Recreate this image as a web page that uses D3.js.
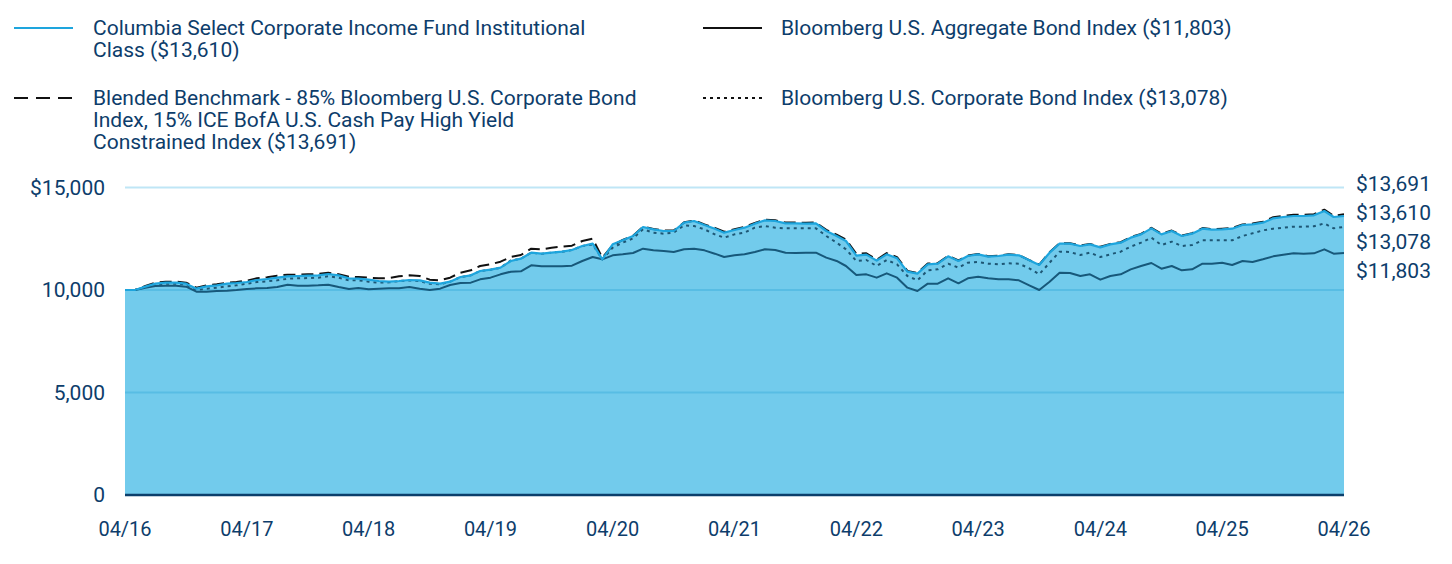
<!DOCTYPE html>
<html>
<head>
<meta charset="utf-8">
<script src="https://cdn.jsdelivr.net/npm/d3@7"></script>
<style>
  body { margin: 0; background: #fff; }
  svg text { font-family: Roboto, "Noto Sans", sans-serif; fill: #0d3d6b; }
</style>
</head>
<body>
<svg id="chart" width="1452" height="564"></svg>
<script>
// monthly values, 04/16 .. 04/26 (growth of $10,000)
var startMonth = new Date(2016, 3, 1);

var fund = [10000,10000,10163,10309,10358,10358,10309,10065,10179,10228,10309,10341,10390,10488,10537,10602,10667,10683,10699,10715,10780,10715,10569,10553,
  10504,10439,10407,10439,10488,10472,10358,10309,10407,10634,10715,10927,10992,11089,11415,11528,11821,11772,11821,11870,11951,12146,12260,11496,
  12228,12423,12634,13073,12959,12878,12878,13285,13366,13171,12992,12797,12927,13041,13236,13398,13366,13252,13252,13236,13252,12878,12634,12390,
  11680,11724,11431,11740,11545,10894,10797,11252,11285,11642,11415,11659,11740,11626,11659,11724,11691,11447,11220,11821,12260,12260,12146,12228,
  12080,12228,12309,12553,12715,13008,12715,12878,12634,12748,12992,12943,12959,12992,13171,13203,13285,13496,13561,13610,13610,13642,13854,13561,13610];

var aggregate = [10000,10000,10114,10195,10211,10211,10163,9919,9919,9951,9967,10000,10049,10081,10098,10146,10260,10211,10211,10228,10260,10146,10049,10098,
  10033,10065,10081,10081,10146,10065,10000,10065,10244,10341,10358,10520,10602,10764,10894,10911,11203,11154,11154,11154,11187,11415,11610,11496,
  11691,11740,11805,12016,11935,11902,11854,11984,12016,11935,11772,11610,11691,11740,11854,11984,11951,11821,11805,11821,11821,11577,11415,11171,
  10732,10764,10602,10813,10602,10114,9951,10309,10309,10569,10325,10569,10650,10569,10520,10520,10472,10228,10000,10407,10846,10829,10683,10764,
  10504,10683,10764,11008,11171,11317,11041,11171,10959,11008,11285,11285,11333,11220,11415,11366,11496,11642,11724,11789,11772,11789,11984,11772,11803];

var blended = [10000,10000,10195,10358,10407,10407,10358,10114,10228,10276,10358,10390,10455,10569,10618,10699,10748,10748,10764,10780,10846,10764,10650,10634,
  10602,10569,10585,10667,10715,10683,10504,10472,10602,10846,10959,11171,11252,11382,11610,11707,12016,11984,12065,12114,12163,12390,12504,11577,
  12180,12440,12650,13090,12980,12900,12900,13300,13390,13200,13030,12840,12960,13080,13270,13430,13400,13290,13290,13280,13290,12930,12700,12460,
  11760,11790,11480,11800,11600,10930,10830,11290,11310,11670,11440,11680,11760,11650,11680,11740,11710,11460,11240,11840,12280,12280,12170,12250,
  12110,12250,12330,12580,12740,13030,12740,12900,12660,12770,13020,12970,12990,13020,13200,13240,13330,13550,13620,13670,13670,13700,13920,13620,13691];

var corporate = [10000,10000,10146,10276,10309,10309,10260,10000,10065,10114,10179,10228,10309,10390,10423,10472,10553,10569,10585,10602,10667,10602,10472,10472,
  10407,10358,10374,10439,10472,10439,10309,10276,10407,10634,10715,10927,10992,11089,11447,11528,11821,11772,11821,11870,11951,12146,12228,11496,
  12065,12309,12520,12959,12797,12748,12797,13154,13122,12959,12715,12553,12715,12797,13041,13122,13041,13008,13008,13008,13008,12634,12309,11984,
  11415,11463,11171,11463,11252,10683,10472,10959,11008,11285,11089,11333,11366,11285,11252,11301,11285,11057,10764,11333,11870,11854,11707,11821,
  11610,11740,11870,12114,12309,12553,12195,12358,12146,12195,12423,12423,12423,12423,12634,12764,12911,12992,13041,13090,13090,13106,13252,13008,13078];

var yTicks = [0, 5000, 10000, 15000];
var endLabels = ["$13,691", "$13,610", "$13,078", "$11,803"];

var legendItems = [
  {lines: ["Columbia Select Corporate Income Fund Institutional", "Class ($13,610)"], kind: "fund"},
  {lines: ["Bloomberg U.S. Aggregate Bond Index ($11,803)"], kind: "aggregate"},
  {lines: ["Blended Benchmark - 85% Bloomberg U.S. Corporate Bond", "Index, 15% ICE BofA U.S. Cash Pay High Yield", "Constrained Index ($13,691)"], kind: "blended"},
  {lines: ["Bloomberg U.S. Corporate Bond Index ($13,078)"], kind: "corporate"}
];

var styles = {
  fund:      {stroke: "#1ea5dd", width: 2.2, dash: null},
  aggregate: {stroke: "#17587a", width: 2, dash: null},
  blended:   {stroke: "#111", width: 2, dash: "12,6"},
  corporate: {stroke: "#1d5674", width: 2, dash: "3,4"}
};

var svg = d3.select("#chart");
var margin = {left: 125, right: 108, top: 187.5, bottom: 69};
var width = 1452 - margin.left - margin.right,
    height = 564 - margin.top - margin.bottom;

function dateAt(i) { return d3.timeMonth.offset(startMonth, i); }

var x = d3.scaleTime().domain([startMonth, dateAt(fund.length - 1)]).range([0, width]);
var y = d3.scaleLinear().domain([0, 15000]).range([height, 0]);

var g = svg.append("g").attr("transform", "translate(" + margin.left + "," + margin.top + ")");

// area under the fund line
g.append("path")
  .datum(fund)
  .attr("fill", "#72cbec")
  .attr("d", d3.area().x(function(d, i) { return x(dateAt(i)); }).y0(y(0)).y1(function(d) { return y(d); }));

// gridlines
g.selectAll(".grid").data(yTicks.filter(function(t) { return t > 0; }))
  .enter().append("line")
  .attr("x1", 0).attr("x2", width)
  .attr("y1", function(d) { return y(d); }).attr("y2", function(d) { return y(d); })
  .attr("stroke", function(d) { return d == 15000 ? "#bfe6f6" : "#58bde4"; })
  .attr("stroke-width", 2);

// baseline
g.append("line").attr("x1", 0).attr("x2", width).attr("y1", y(0)).attr("y2", y(0))
  .attr("stroke", "#0b3f6b").attr("stroke-width", 2.5);

var line = d3.line().x(function(d, i) { return x(dateAt(i)); }).y(function(d) { return y(d); });

[["aggregate", aggregate], ["corporate", corporate], ["blended", blended], ["fund", fund]].forEach(function(s) {
  var st = styles[s[0]];
  g.append("path").datum(s[1])
    .attr("fill", "none")
    .attr("stroke", st.stroke)
    .attr("stroke-width", st.width)
    .attr("stroke-dasharray", st.dash)
    .attr("stroke-linejoin", "round")
    .attr("d", line);
});

// y axis labels
g.selectAll(".ylab").data(yTicks).enter().append("text")
  .attr("x", -20).attr("y", function(d) { return y(d); })
  .attr("dy", "0.35em").attr("text-anchor", "end")
  .style("font-size", "21px")
  .text(function(d) { return (d == 15000 ? "$" : "") + d3.format(",")(d); });

// x axis labels
var xTicks = d3.range(0, fund.length, 12).map(dateAt);
g.selectAll(".xlab").data(xTicks).enter().append("text")
  .attr("x", function(d) { return x(d); }).attr("y", height + 34)
  .attr("dy", "0.35em").attr("text-anchor", "middle")
  .style("font-size", "20px")
  .text(d3.timeFormat("%m/%y"));

// end labels
g.selectAll(".endlab").data(endLabels).enter().append("text")
  .attr("x", width + 12).attr("y", function(d, i) { return -3.5 + i * 29; })
  .attr("dy", "0.35em")
  .style("font-size", "21px")
  .text(function(d) { return d; });

// legend
var legPos = [[14, 28], [703, 28], [14, 98], [703, 98]];
legendItems.forEach(function(item, k) {
  var st = styles[item.kind];
  var lg = svg.append("g").attr("transform", "translate(" + legPos[k][0] + "," + legPos[k][1] + ")");
  lg.append("line").attr("x1", 0).attr("x2", 59).attr("y1", 0).attr("y2", 0)
    .attr("stroke", item.kind == "fund" ? "#1ea5dd" : "#111")
    .attr("stroke-width", 2)
    .attr("stroke-dasharray", item.kind == "blended" ? "14,8" : st.dash);
  lg.selectAll("text").data(item.lines).enter().append("text")
    .attr("x", 79 - (k % 2 ? 1 : 0)).attr("y", function(d, i) { return i * 22; })
    .attr("dy", "0.35em")
    .style("font-size", "21px")
    .text(function(d) { return d; });
});
</script>
</body>
</html>
